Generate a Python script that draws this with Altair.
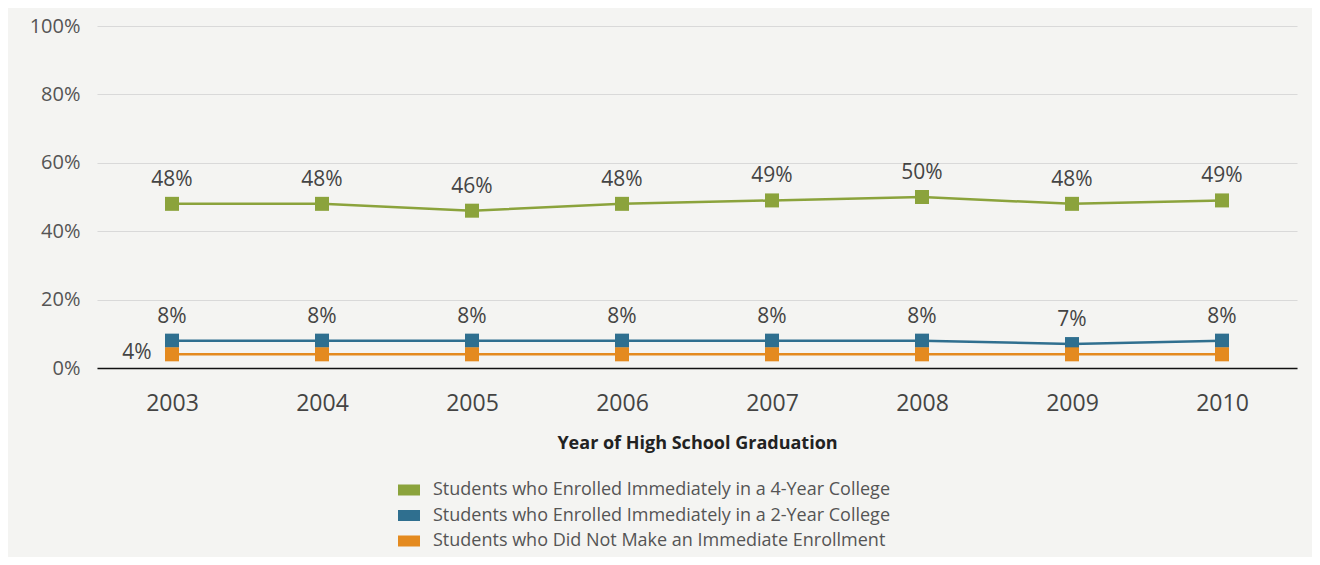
import altair as alt
import pandas as pd

years = ["2003", "2004", "2005", "2006", "2007", "2008", "2009", "2010"]
four_year = [48, 48, 46, 48, 49, 50, 48, 49]
two_year = [8, 8, 8, 8, 8, 8, 7, 8]
no_enroll = [4, 4, 4, 4, 4, 4, 4, 4]
series_names = [
    "Students who Enrolled Immediately in a 4-Year College",
    "Students who Enrolled Immediately in a 2-Year College",
    "Students who Did Not Make an Immediate Enrollment",
]
colors = ["#8ba33c", "#2f6f8f", "#e48a1f"]

rows = []
for i, y in enumerate(years):
    for s, vals in zip(series_names, [four_year, two_year, no_enroll]):
        rows.append({"year": y, "series": s, "value": vals[i],
                     "label": f"{vals[i]}%"})
df = pd.DataFrame(rows)

FONT = "Open Sans"

x = alt.X("year:O", title="Year of High School Graduation", sort=years,
          scale=alt.Scale(type="point", padding=0.5),
          axis=alt.Axis(labelAngle=0, ticks=False, labelFontSize=23, labelColor="#444",
                        labelPadding=24, titleFontSize=18, titleFontWeight="bold",
                        titleColor="#222", titlePadding=19, domainColor="#111",
                        domainWidth=1.5, labelFont=FONT, titleFont=FONT))
y = alt.Y("value:Q", title=None,
          scale=alt.Scale(domain=[0, 100]),
          axis=alt.Axis(values=[0, 20, 40, 60, 80, 100], labelExpr="datum.value + '%'",
                        domain=False, ticks=False, labelFontSize=20, labelColor="#555",
                        labelPadding=17, gridColor="#d9d9d9", gridWidth=1, labelFont=FONT))
color = alt.Color("series:N", sort=series_names,
                  scale=alt.Scale(domain=series_names, range=colors),
                  legend=alt.Legend(title=None, orient="none", legendX=301, legendY=111 + 342,
                                    symbolType="M-1,-0.5H1V0.5H-1Z", symbolSize=484,
                                    symbolStrokeWidth=0, labelFontSize=18, labelColor="#555",
                                    labelFont=FONT, rowPadding=5.5, labelOffset=13,
                                    labelLimit=800, symbolOpacity=1))

base = alt.Chart(df).encode(x=x, y=y, color=color)

lines = base.mark_line(strokeWidth=2.5)
points = base.mark_square(size=196, opacity=1)

labels_top = alt.Chart(df).transform_filter(
    f"datum.series != '{series_names[2]}'"
).mark_text(dy=-24, fontSize=21, color="#444", font=FONT).encode(
    x=alt.X("year:O", sort=years), y="value:Q", text="label:N")

label_four = alt.Chart(df).transform_filter(
    f"datum.series == '{series_names[2]}' && datum.year == '2003'"
).mark_text(dx=-35, dy=-1, fontSize=21, color="#444", font=FONT).encode(
    x=alt.X("year:O", sort=years), y="value:Q", text="label:N")

chart = alt.layer(lines, points, labels_top, label_four).properties(
    width=1200, height=342,
    background="#f4f4f2",
    padding={"left": 89, "top": 18, "right": 15, "bottom": 189},
    autosize=alt.AutoSizeParams(type="none"),
).configure_view(stroke=None)

chart.save("out.html", embed_options={"renderer": "svg", "actions": False})
